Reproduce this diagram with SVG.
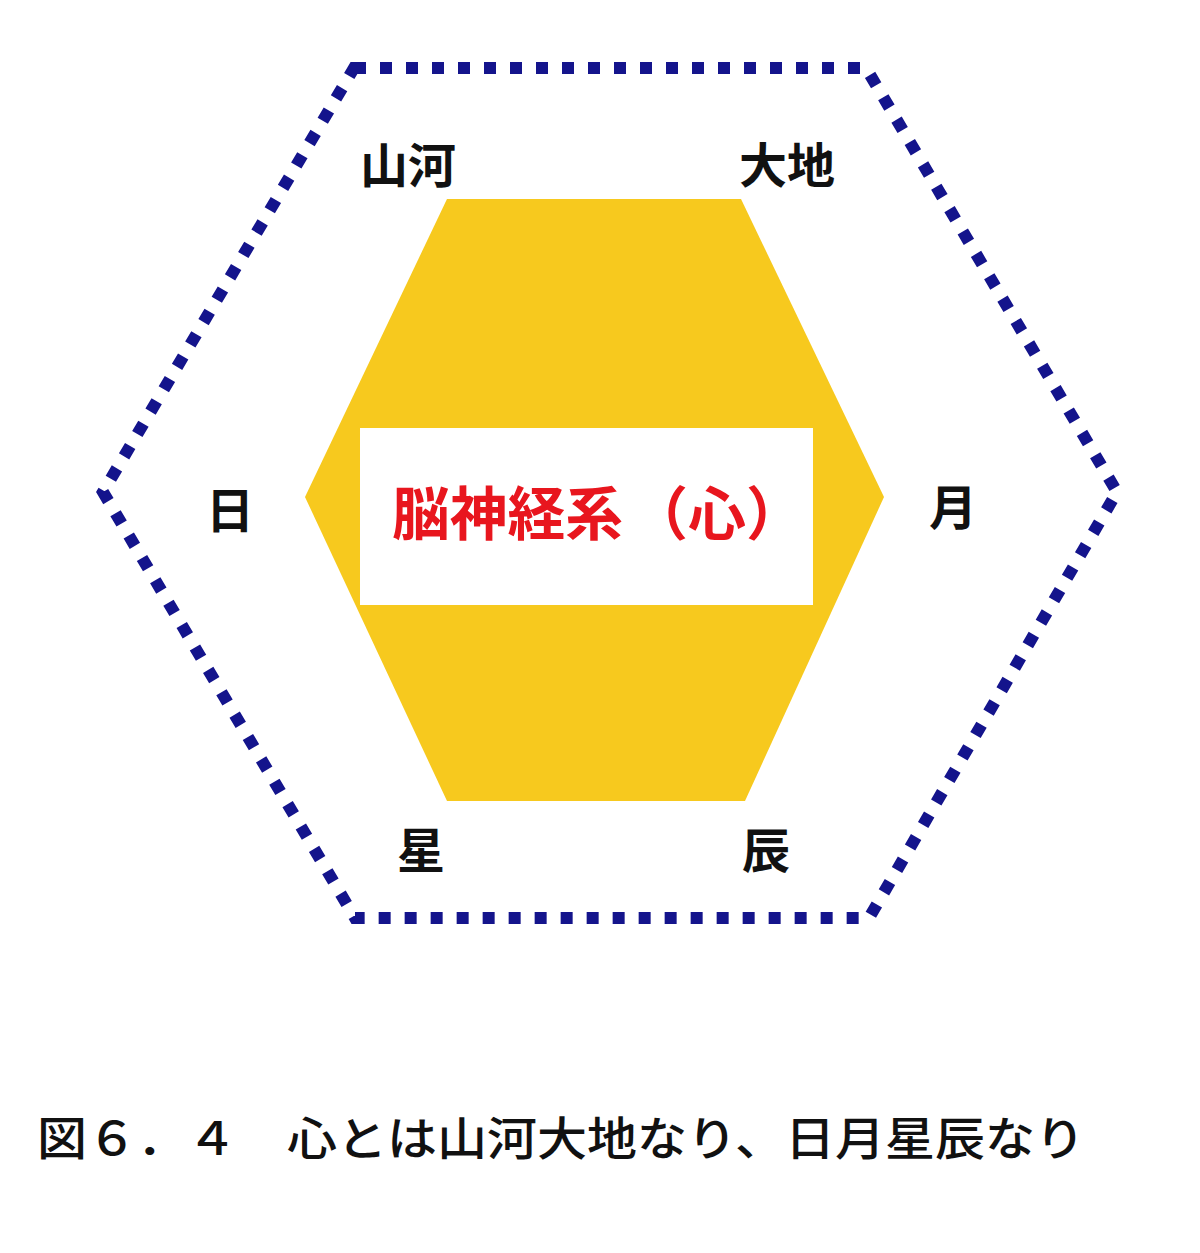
<svg xmlns="http://www.w3.org/2000/svg" width="1200" height="1253" viewBox="0 0 1200 1253">
<style>
.lbl{font-family:"Noto Sans CJK JP","Noto Sans CJK SC",sans-serif;font-size:48px;font-weight:bold;fill:#111;text-anchor:middle;dominant-baseline:central}
.core{font-family:"Noto Sans CJK JP","Noto Sans CJK SC",sans-serif;font-size:58px;font-weight:bold;fill:#E8161E;dominant-baseline:central}
.cap{font-family:"Noto Sans CJK JP","Noto Sans CJK SC",sans-serif;font-size:46px;font-weight:500;fill:#111;dominant-baseline:central}
</style>
<rect width="1200" height="1253" fill="#ffffff"/>
<g id="outer-hexagon">
<polygon points="354,68 866,68 1117,492 869,918 355,918 103,492" fill="none" stroke="#14148C" stroke-width="12" stroke-dasharray="12 14" stroke-linejoin="miter"/>
</g>
<g id="core-hexagon">
<polygon points="447,199 741,199 884,497 745,801 447,801 305,497" fill="#F7C91E"/>
</g>
<g id="core-label">
<rect x="360" y="428" width="453" height="177" fill="#ffffff"/>
<text class="core" x="392" y="510" textLength="231" lengthAdjust="spacingAndGlyphs">脳神経系</text>
<text class="core" x="717" y="510" text-anchor="middle">（心）</text>
</g>
<g id="label-sanga"><text class="lbl" x="408" y="162">山河</text></g>
<g id="label-daichi"><text class="lbl" x="787" y="162">大地</text></g>
<g id="label-hi"><text class="lbl" x="230" y="507">日</text></g>
<g id="label-tsuki"><text class="lbl" x="953" y="504">月</text></g>
<g id="label-hoshi"><text class="lbl" x="421" y="847">星</text></g>
<g id="label-shin"><text class="lbl" x="766" y="847">辰</text></g>
<g id="connectors"></g>
<g id="caption">
<text class="cap" x="37" y="1135" textLength="1048" lengthAdjust="spacingAndGlyphs">図６．４　心とは山河大地なり、日月星辰なり</text>
</g>
</svg>
